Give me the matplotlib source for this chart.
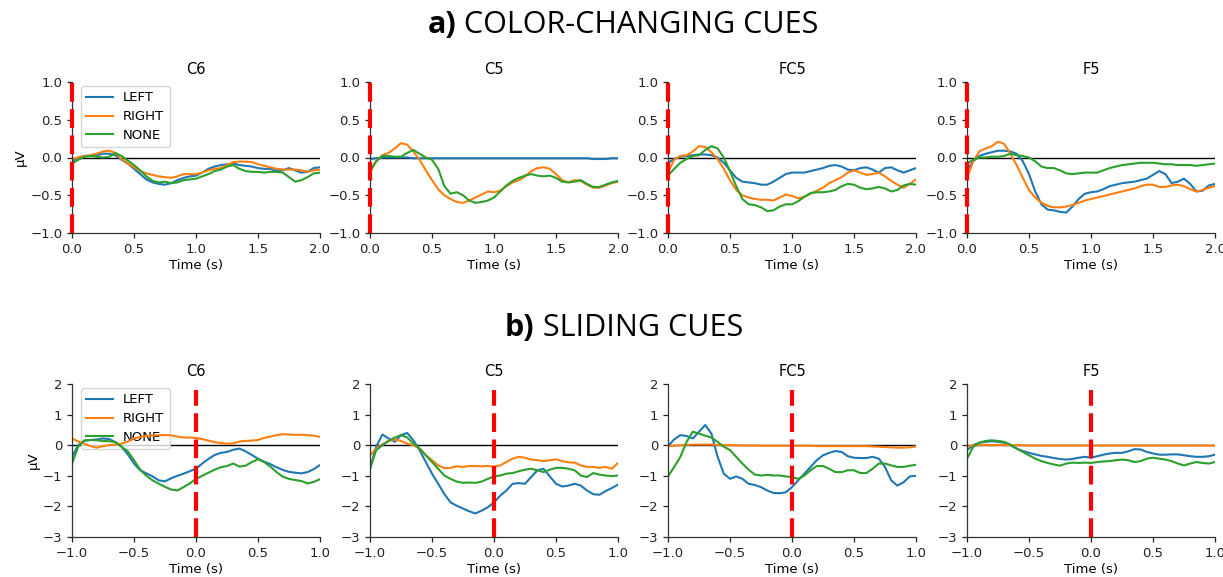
import numpy as np
import matplotlib
matplotlib.use("Agg")
import matplotlib.pyplot as plt
from matplotlib.offsetbox import TextArea, HPacker, AnchoredOffsetbox

# ---------------- data ----------------
channels = ["C6", "C5", "FC5", "F5"]
conditions = ["LEFT", "RIGHT", "NONE"]

time_color = np.round(np.arange(0, 2.0001, 0.05), 2)      # color-changing cues
time_slide = np.round(np.arange(-1.0, 1.0001, 0.05), 2)   # sliding cues

# a) COLOR-CHANGING CUES
color_C6_left = [-0.05, 0.0, 0.02, 0.02, 0.03, 0.05, 0.05, 0.03, -0.03, -0.08, -0.15, -0.22, -0.29, -0.33,
                 -0.35, -0.36, -0.34, -0.3, -0.27, -0.25, -0.24, -0.2, -0.15, -0.12, -0.1, -0.09, -0.08,
                 -0.1, -0.11, -0.12, -0.14, -0.15, -0.15, -0.18, -0.17, -0.14, -0.17, -0.2, -0.19, -0.14, -0.13]
color_C6_right = [-0.02, 0.0, 0.02, 0.03, 0.05, 0.08, 0.09, 0.06, -0.02, -0.08, -0.13, -0.18, -0.21, -0.23,
                  -0.25, -0.26, -0.27, -0.25, -0.22, -0.22, -0.22, -0.2, -0.17, -0.15, -0.14, -0.1, -0.06,
                  -0.055, -0.055, -0.06, -0.09, -0.11, -0.13, -0.15, -0.16, -0.16, -0.16, -0.17, -0.19, -0.17, -0.16]
color_C6_none = [-0.08, -0.03, 0.01, 0.02, 0.01, 0.0, 0.01, 0.06, 0.02, -0.04, -0.1, -0.17, -0.25, -0.31,
                 -0.33, -0.32, -0.34, -0.33, -0.3, -0.29, -0.28, -0.25, -0.22, -0.18, -0.16, -0.12, -0.1,
                 -0.15, -0.18, -0.19, -0.19, -0.2, -0.19, -0.19, -0.2, -0.26, -0.32, -0.3, -0.26, -0.21, -0.2]

color_C5_left = [-0.02, -0.01, 0.0, 0.0, 0.0, 0.0, 0.0, -0.01, -0.01, -0.01, -0.01, -0.01, -0.01, -0.01,
                 -0.01, -0.01, -0.01, -0.01, -0.01, -0.01, -0.01, -0.01, -0.01, -0.01, -0.01, -0.01, -0.01,
                 -0.01, -0.01, -0.01, -0.01, -0.01, -0.01, -0.01, -0.01, -0.01, -0.02, -0.02, -0.02, -0.01, -0.01]
color_C5_right = [-0.2, -0.05, 0.03, 0.06, 0.12, 0.19, 0.17, 0.08, -0.03, -0.17, -0.3, -0.42, -0.5, -0.55,
                  -0.59, -0.6, -0.57, -0.53, -0.49, -0.45, -0.46, -0.44, -0.38, -0.33, -0.3, -0.25, -0.18,
                  -0.14, -0.13, -0.15, -0.22, -0.3, -0.33, -0.3, -0.31, -0.36, -0.4, -0.4, -0.37, -0.34, -0.32]
color_C5_none = [-0.17, -0.05, 0.02, 0.02, 0.01, 0.01, 0.06, 0.1, 0.05, 0.0, -0.03, -0.15, -0.38, -0.48,
                 -0.46, -0.5, -0.57, -0.6, -0.59, -0.57, -0.53, -0.45, -0.37, -0.31, -0.27, -0.24, -0.22,
                 -0.24, -0.25, -0.24, -0.27, -0.32, -0.33, -0.32, -0.3, -0.35, -0.39, -0.39, -0.36, -0.33, -0.31]

color_FC5_left = [-0.07, -0.02, 0.01, 0.02, 0.03, 0.04, 0.04, 0.03, 0.0, -0.07, -0.17, -0.27, -0.32, -0.33,
                  -0.34, -0.36, -0.36, -0.32, -0.27, -0.22, -0.2, -0.2, -0.2, -0.18, -0.16, -0.14, -0.11,
                  -0.1, -0.12, -0.16, -0.17, -0.14, -0.13, -0.16, -0.2, -0.14, -0.13, -0.17, -0.2, -0.17, -0.14]
color_FC5_right = [-0.2, -0.03, 0.02, 0.03, 0.08, 0.15, 0.14, 0.07, -0.02, -0.15, -0.3, -0.43, -0.5, -0.53,
                   -0.55, -0.56, -0.56, -0.57, -0.53, -0.49, -0.51, -0.54, -0.52, -0.48, -0.44, -0.4, -0.34,
                   -0.3, -0.26, -0.2, -0.17, -0.2, -0.23, -0.22, -0.2, -0.25, -0.31, -0.36, -0.4, -0.35, -0.29]
color_FC5_none = [-0.24, -0.15, -0.07, -0.02, 0.02, 0.03, 0.1, 0.15, 0.12, 0.0, -0.18, -0.38, -0.55, -0.62,
                  -0.63, -0.66, -0.71, -0.7, -0.65, -0.62, -0.62, -0.58, -0.52, -0.47, -0.46, -0.46, -0.45,
                  -0.43, -0.38, -0.35, -0.36, -0.4, -0.42, -0.41, -0.39, -0.41, -0.45, -0.43, -0.37, -0.35, -0.36]

color_F5_left = [-0.17, -0.05, 0.02, 0.05, 0.07, 0.09, 0.09, 0.08, 0.05, -0.05, -0.22, -0.45, -0.62, -0.69,
                 -0.7, -0.72, -0.73, -0.65, -0.55, -0.48, -0.46, -0.45, -0.42, -0.38, -0.36, -0.34, -0.33,
                 -0.32, -0.3, -0.28, -0.23, -0.18, -0.22, -0.34, -0.32, -0.28, -0.35, -0.45, -0.44, -0.37, -0.35]
color_F5_right = [-0.27, -0.05, 0.08, 0.12, 0.15, 0.21, 0.18, 0.05, -0.1, -0.27, -0.43, -0.53, -0.6, -0.64,
                  -0.66, -0.66, -0.65, -0.63, -0.6, -0.57, -0.55, -0.53, -0.51, -0.49, -0.47, -0.45, -0.43,
                  -0.41, -0.38, -0.36, -0.36, -0.39, -0.39, -0.37, -0.36, -0.38, -0.42, -0.45, -0.43, -0.4, -0.38]
color_F5_none = [-0.08, -0.03, 0.0, 0.0, 0.01, 0.01, 0.02, 0.05, 0.03, 0.02, 0.0, -0.05, -0.12, -0.14,
                 -0.14, -0.17, -0.21, -0.22, -0.21, -0.2, -0.2, -0.2, -0.17, -0.14, -0.12, -0.1, -0.09,
                 -0.08, -0.07, -0.07, -0.07, -0.08, -0.09, -0.09, -0.1, -0.1, -0.1, -0.11, -0.1, -0.09, -0.08]

# b) SLIDING CUES
slide_C6_left = [-0.38, 0.0, 0.14, 0.17, 0.19, 0.22, 0.2, 0.1, -0.05, -0.3, -0.6, -0.82, -0.92, -1.02,
                 -1.15, -1.18, -1.08, -1.0, -0.93, -0.85, -0.77, -0.6, -0.45, -0.32, -0.25, -0.22, -0.15,
                 -0.11, -0.2, -0.32, -0.44, -0.54, -0.62, -0.72, -0.81, -0.87, -0.9, -0.92, -0.88, -0.78, -0.65]
slide_C6_right = [0.22, 0.12, 0.05, -0.03, -0.08, -0.03, 0.0, 0.02, 0.05, 0.12, 0.22, 0.27, 0.3, 0.32,
                  0.33, 0.33, 0.32, 0.28, 0.25, 0.25, 0.24, 0.2, 0.15, 0.1, 0.07, 0.05, 0.06,
                  0.12, 0.14, 0.15, 0.17, 0.24, 0.28, 0.33, 0.36, 0.35, 0.34, 0.34, 0.33, 0.31, 0.27]
slide_C6_none = [-0.6, -0.05, 0.16, 0.17, 0.16, 0.14, 0.13, 0.1, -0.05, -0.2, -0.49, -0.8, -1.0, -1.15,
                 -1.26, -1.36, -1.45, -1.48, -1.37, -1.25, -1.1, -1.0, -0.9, -0.8, -0.72, -0.68, -0.6,
                 -0.7, -0.67, -0.55, -0.46, -0.55, -0.7, -0.88, -1.03, -1.1, -1.14, -1.17, -1.25, -1.2, -1.11]

slide_C5_left = [-0.77, -0.05, 0.35, 0.22, 0.11, 0.33, 0.4, 0.16, -0.16, -0.55, -0.93, -1.26, -1.6, -1.87,
                 -1.98, -2.07, -2.16, -2.23, -2.14, -2.03, -1.87, -1.65, -1.48, -1.26, -1.24, -1.26, -1.04,
                 -0.82, -0.77, -1.02, -1.26, -1.35, -1.32, -1.26, -1.32, -1.48, -1.6, -1.62, -1.5, -1.4, -1.29]
slide_C5_right = [-0.33, -0.11, 0.03, 0.14, 0.19, 0.14, 0.05, 0.0, -0.11, -0.33, -0.49, -0.66, -0.75, -0.74,
                  -0.69, -0.71, -0.68, -0.68, -0.69, -0.68, -0.71, -0.66, -0.55, -0.44, -0.38, -0.41, -0.47,
                  -0.49, -0.52, -0.49, -0.46, -0.52, -0.56, -0.57, -0.66, -0.71, -0.71, -0.74, -0.71, -0.77, -0.58]
slide_C5_none = [-0.77, -0.16, 0.0, 0.14, 0.25, 0.33, 0.25, 0.05, -0.11, -0.33, -0.55, -0.77, -0.99, -1.1,
                 -1.19, -1.23, -1.22, -1.23, -1.19, -1.1, -1.02, -0.99, -0.93, -0.91, -0.85, -0.8, -0.77,
                 -0.82, -0.88, -0.8, -0.74, -0.74, -0.77, -0.82, -0.99, -1.04, -0.91, -0.96, -0.99, -1.01, -0.99]

slide_FC5_left = [-0.03, 0.19, 0.33, 0.3, 0.22, 0.44, 0.66, 0.38, -0.38, -0.93, -1.1, -1.02, -1.1, -1.26,
                  -1.3, -1.37, -1.48, -1.56, -1.57, -1.54, -1.37, -1.15, -0.93, -0.71, -0.49, -0.33, -0.25,
                  -0.19, -0.22, -0.36, -0.41, -0.42, -0.42, -0.38, -0.44, -0.71, -1.15, -1.32, -1.21, -1.02, -1.0]
slide_FC5_right = [-0.03, -0.02, 0.0, 0.01, 0.02, 0.02, 0.02, 0.02, 0.01, 0.0, 0.0, 0.0, -0.01, -0.01,
                   -0.01, -0.02, -0.02, -0.02, -0.02, -0.02, -0.02, -0.02, -0.02, -0.02, -0.03, -0.03, -0.03,
                   -0.03, -0.03, -0.03, -0.03, -0.03, -0.03, -0.04, -0.05, -0.06, -0.07, -0.08, -0.08, -0.07, -0.04]
slide_FC5_none = [-1.02, -0.71, -0.38, 0.11, 0.44, 0.38, 0.31, 0.25, 0.11, -0.05, -0.16, -0.38, -0.6, -0.8,
                  -0.96, -0.99, -0.97, -0.99, -0.99, -1.02, -1.04, -1.1, -0.99, -0.82, -0.68, -0.68, -0.77,
                  -0.88, -0.88, -0.82, -0.82, -0.91, -0.91, -0.77, -0.6, -0.6, -0.66, -0.71, -0.71, -0.67, -0.64]

slide_F5_left = [-0.16, 0.0, 0.08, 0.11, 0.13, 0.11, 0.08, 0.0, -0.11, -0.19, -0.25, -0.3, -0.35, -0.38,
                 -0.42, -0.45, -0.47, -0.45, -0.41, -0.38, -0.41, -0.36, -0.31, -0.27, -0.25, -0.25, -0.2,
                 -0.13, -0.14, -0.22, -0.27, -0.31, -0.31, -0.3, -0.3, -0.33, -0.36, -0.38, -0.38, -0.36, -0.31]
slide_F5_right = [-0.03, -0.01, 0.0, 0.01, 0.01, 0.01, 0.01, 0.0, 0.0, 0.0, -0.01, -0.01, -0.01, -0.01,
                  -0.01, -0.01, -0.01, -0.01, -0.01, -0.01, -0.01, -0.01, -0.01, -0.01, -0.01, -0.01, -0.01,
                  -0.01, -0.01, -0.01, -0.01, -0.01, -0.01, -0.01, -0.01, -0.01, -0.01, -0.01, -0.01, -0.01, -0.01]
slide_F5_none = [-0.44, -0.05, 0.08, 0.14, 0.16, 0.14, 0.11, 0.02, -0.11, -0.22, -0.33, -0.44, -0.52, -0.58,
                 -0.63, -0.67, -0.6, -0.57, -0.58, -0.57, -0.58, -0.55, -0.53, -0.52, -0.49, -0.47, -0.49,
                 -0.55, -0.52, -0.44, -0.41, -0.44, -0.47, -0.52, -0.6, -0.66, -0.6, -0.55, -0.58, -0.6, -0.55]

color_data = {
    "C6": [color_C6_left, color_C6_right, color_C6_none],
    "C5": [color_C5_left, color_C5_right, color_C5_none],
    "FC5": [color_FC5_left, color_FC5_right, color_FC5_none],
    "F5": [color_F5_left, color_F5_right, color_F5_none],
}
slide_data = {
    "C6": [slide_C6_left, slide_C6_right, slide_C6_none],
    "C5": [slide_C5_left, slide_C5_right, slide_C5_none],
    "FC5": [slide_FC5_left, slide_FC5_right, slide_FC5_none],
    "F5": [slide_F5_left, slide_F5_right, slide_F5_none],
}

color_yticks = [-1.0, -0.5, 0.0, 0.5, 1.0]
color_xticks = [0.0, 0.5, 1.0, 1.5, 2.0]
slide_yticks = [-3, -2, -1, 0, 1, 2]
slide_xticks = [-1.0, -0.5, 0.0, 0.5, 1.0]

# ---------------- figure ----------------
W, H = 1223, 577
fig = plt.figure(figsize=(W / 100, H / 100), dpi=100)
plt.rcParams["font.family"] = ["DejaVu Sans"]

line_colors = ["#1f77b4", "#ff7f0e", "#2ca02c"]
lefts_px = [72, 370, 668, 967]
ax_w = 248 / W


def style_axes(ax):
    for s in ["top", "right"]:
        ax.spines[s].set_visible(False)
    for s in ["left", "bottom"]:
        ax.spines[s].set_linewidth(0.9)
        ax.spines[s].set_color("#333333")
    ax.tick_params(labelsize=9.5, colors="#222222", width=0.9, length=3.5)


def draw_row(data, t, y_bottom_px, y_top_px, ylim, yticks, xticks, xlim, red_ylim, legend_first):
    for i, ch in enumerate(channels):
        ax = fig.add_axes([lefts_px[i] / W, (H - y_bottom_px) / H, ax_w,
                           (y_bottom_px - y_top_px) / H])
        ax.axhline(0, color="black", lw=1.0, zorder=1)
        for series, name, c in zip(data[ch], conditions, line_colors):
            ax.plot(t, series, color=c, lw=1.5, label=name, zorder=2)
        ax.plot([0, 0], list(red_ylim), color="red", lw=3.0,
                linestyle=(0, (4.5, 1.8)), zorder=4, clip_on=False)
        ax.set_xlim(*xlim)
        ax.set_ylim(*ylim)
        ax.set_xticks(xticks)
        ax.set_yticks(yticks)
        ax.set_title(ch, fontsize=10.5, pad=6)
        ax.set_xlabel("Time (s)", fontsize=9.5, labelpad=2)
        if i == 0:
            ax.set_ylabel("µV", fontsize=9.5, labelpad=2)
            if legend_first:
                leg = ax.legend(loc="upper left", fontsize=9.5, bbox_to_anchor=(0.02, 1.0),
                                handlelength=2.0, borderaxespad=0.3, labelspacing=0.45)
                leg.set_zorder(1.5)
        style_axes(ax)


draw_row(color_data, time_color, 233, 82, (-1.0, 1.0), color_yticks, color_xticks,
         (0.0, 2.0), (-1.0, 1.0), True)
draw_row(slide_data, time_slide, 537, 384, (-3, 2), slide_yticks, slide_xticks,
         (-1.0, 1.0), (-3.0, 1.8), True)


# Section titles with bold prefix
def section_title(prefix, rest, x, y):
    props_b = dict(fontsize=22, fontweight="bold", family="Open Sans", color="black")
    props_r = dict(fontsize=22, family="Open Sans", color="black")
    box = HPacker(children=[TextArea(prefix, textprops=props_b),
                            TextArea(rest, textprops=props_r)],
                  align="baseline", pad=0, sep=0)
    ab = AnchoredOffsetbox(loc="center", child=box, frameon=False, pad=0, borderpad=0,
                           bbox_to_anchor=(x, y), bbox_transform=fig.transFigure)
    fig.add_artist(ab)


section_title("a)", " COLOR-CHANGING CUES", 623 / W, 1 - 25 / H)
section_title("b)", " SLIDING CUES", 624 / W, 1 - 328 / H)

fig.savefig("out.png", dpi=100)
